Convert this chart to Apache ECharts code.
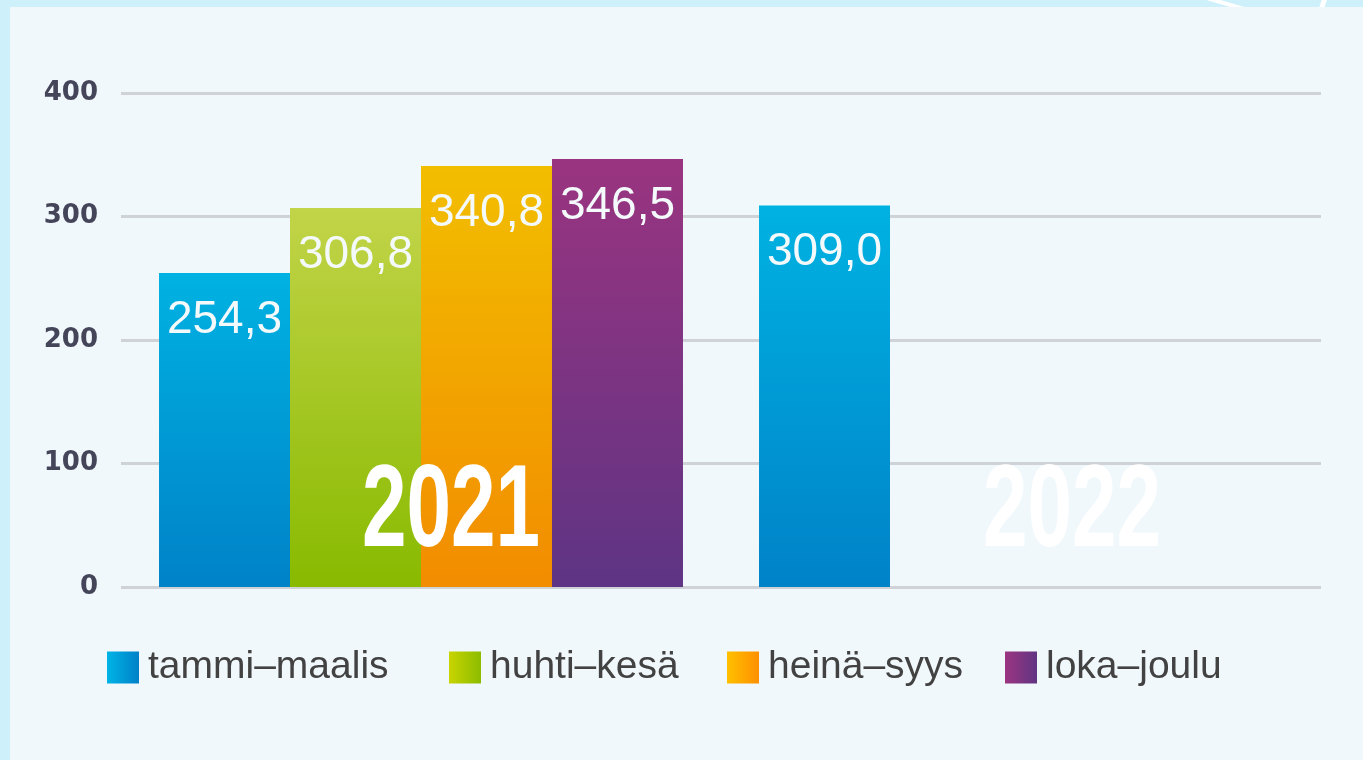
<!DOCTYPE html>
<html>
<head>
<meta charset="utf-8">
<script src="https://cdn.jsdelivr.net/npm/echarts@6/dist/echarts.min.js"></script>
<style>
  html, body { margin: 0; padding: 0; background: #cef0fa; }
  #main { width: 1363px; height: 760px; }
</style>
</head>
<body>
<div id="main"></div>
<script>
// data
const years = ['2021', '2022']
const quarters = ['tammi–maalis', 'huhti–kesä', 'heinä–syys', 'loka–joulu']
const tammiMaalis = [254.3, 309.0]
const huhtiKesa = [306.8, null]
const heinaSyys = [340.8, null]
const lokaJoulu = [346.5, null]
const yTicks = [0, 100, 200, 300, 400]

const values = [tammiMaalis, huhtiKesa, heinaSyys, lokaJoulu]
// [top, bottom] of the bar gradient, [left, right] of the legend square
const barColors = [
  ['#00b2e2', '#0082c8'],
  ['#c2d448', '#88ba00'],
  ['#f2be00', '#f28c00'],
  ['#9a3480', '#5e3484']
]
const legendColors = [
  ['#00b4e6', '#0080c8'],
  ['#c8d400', '#8cbc00'],
  ['#ffc000', '#ff9000'],
  ['#9c3580', '#603484']
]
const legendLeft = [107, 449, 727, 1005]

const grad = (x2, y2, c) => new echarts.graphic.LinearGradient(0, 0, x2, y2, [
  {offset: 0, color: c[0]},
  {offset: 1, color: c[1]}
])

let chart = echarts.init(document.getElementById('main'))

let option = {
  backgroundColor: '#cef0fa',
  animation: false,
  grid: {left: 121, top: 93, width: 1200, height: 494},
  legend: quarters.map((name, i) => ({
    left: legendLeft[i],
    top: 648,
    padding: 0,
    icon: 'rect',
    itemWidth: 32,
    itemHeight: 32,
    selectedMode: false,
    data: [{name: name, itemStyle: {color: grad(1, 0, legendColors[i])}}],
    textStyle: {
      fontFamily: 'Liberation Sans, Arial, sans-serif',
      fontSize: 39,
      color: '#424242',
      padding: [3, 0, 0, 4]
    }
  })),
  xAxis: {
    type: 'category',
    data: years,
    axisLine: {show: false},
    axisTick: {show: false},
    axisLabel: {show: false}
  },
  yAxis: {
    type: 'value',
    min: yTicks[0],
    max: yTicks[yTicks.length - 1],
    interval: yTicks[1] - yTicks[0],
    axisLine: {show: false},
    axisTick: {show: false},
    axisLabel: {
      margin: 23,
      fontFamily: 'DejaVu Sans, sans-serif',
      fontWeight: 'bold',
      fontSize: 26,
      color: '#45455a',
      padding: [6, 0, 0, 0]
    },
    splitLine: {lineStyle: {color: '#cfd3d7', width: 3}}
  },
  series: quarters.map((name, i) => ({
    name: name,
    type: 'bar',
    data: values[i],
    barGap: 0,
    barCategoryGap: '12.67%',
    itemStyle: {color: grad(0, 1, barColors[i])},
    label: {
      show: true,
      position: 'insideTop',
      distance: 24,
      fontFamily: 'Liberation Sans, Arial, sans-serif',
      fontSize: 46,
      color: '#f4fafc',
      formatter: p => p.value.toFixed(1).replace('.', ',')
    }
  }))
}

chart.setOption(option)

// panel, the white curves in the corner, and the big year labels
const yearShift = [30, 51]
const yearText = years.map((y, i) => ({
  type: 'text',
  z: 100,
  x: chart.convertToPixel({xAxisIndex: 0}, y) + yearShift[i],
  y: chart.convertToPixel({yAxisIndex: 0}, 59),
  scaleX: 0.69,
  style: {
    text: y,
    font: 'bold 116px "Liberation Sans", Arial, sans-serif',
    fill: '#ffffff',
    align: 'center',
    verticalAlign: 'middle'
  }
}))

chart.setOption({
  graphic: [
    {type: 'line', z: -20, shape: {x1: 1200, y1: -4, x2: 1254, y2: 12}, style: {stroke: '#ffffff', lineWidth: 4}},
    {type: 'line', z: -20, shape: {x1: 1325, y1: -2, x2: 1321, y2: 10}, style: {stroke: '#ffffff', lineWidth: 5}},
    {type: 'rect', z: -10, shape: {x: 10, y: 7, width: 1353, height: 753}, style: {fill: '#f1f8fc'}},
    ...yearText
  ]
})
</script>
</body>
</html>
